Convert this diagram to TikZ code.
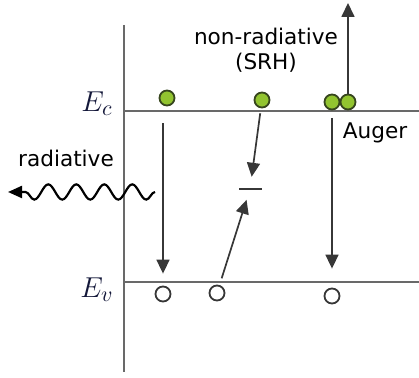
\documentclass[tikz,border=0pt]{standalone}
\usepackage{fontspec}
\newfontfamily\labelfont{DejaVu Sans}
\usepackage{xcolor}
\usepackage{tikz}
\usetikzlibrary{arrows.meta, positioning, decorations.pathmorphing}
\definecolor{ElecGreen}{RGB}{146,196,48}
\definecolor{ElecEdge}{RGB}{55,70,30}
\definecolor{LevelGray}{RGB}{105,105,105}
\definecolor{ArrGray}{RGB}{55,55,55}
\definecolor{EnergyBlue}{RGB}{20,24,58}

\begin{document}
\begin{tikzpicture}[
    x=0.5pt, y=-0.5pt,
    elec/.style={circle, draw=ElecEdge, fill=ElecGreen, line width=0.9pt,
                 minimum size=7.5pt, inner sep=0pt},
    hole/.style={circle, draw=ArrGray, fill=white, line width=0.9pt,
                 minimum size=7.5pt, inner sep=0pt},
    level/.style={LevelGray, line width=1.4pt},
    arr/.style={-{Triangle[length=7pt, width=6.5pt]}, ArrGray, line width=0.85pt},
    lbl/.style={font=\labelfont\fontsize{10.8}{12.5}\selectfont, align=center},
    en/.style={font=\fontsize{15}{16}\selectfont, text=EnergyBlue}
]
\useasboundingbox (0,0) rectangle (419,378);
% axis and band edges
\coordinate (axtop) at (124,25);
\coordinate (axbot) at (124,372);
\coordinate (ectop) at (124,111);
\coordinate (ecend) at (419,111);
\coordinate (evtop) at (124,282);
\coordinate (evend) at (419,282);
\draw[level] (axtop) -- (axbot);
\draw[level] (ectop) -- (ecend);
\draw[level] (evtop) -- (evend);
\node[en] (ec) at (97,104) {$E_c$};
\node[en] (ev) at (97,290) {$E_v$};

% carriers
\node[elec] (e1) at (167,98) {};
\node[elec] (e2) at (262,100) {};
\node[elec] (e3) at (332,102) {};
\node[elec] (e4) at (348,102) {};
\node[hole] (h1) at (163,294) {};
\node[hole] (h2) at (217,293) {};
\node[hole] (h3) at (332,296) {};
\node[fill=ArrGray, minimum width=11.5pt, minimum height=0.9pt, inner sep=0pt] (trap) at (250,189) {};

% transitions
\draw[arr, shorten <=8.5pt, shorten >=6pt] (e1.south -| h1) -- (h1);
\draw[arr, shorten <=2.5pt, shorten >=5.5pt] (e2) -- (trap);
\draw[arr, shorten <=3.5pt, shorten >=5pt] (h2) -- (trap);
\draw[arr, shorten <=3.75pt, shorten >=9.5pt] (e3) -- (h3);
\coordinate (augtop) at (348,3);
\draw[arr] (e4.north) -- (augtop);

% photon
\coordinate (wstart) at (155,192);
\coordinate (wend) at (8,192);
\draw[black, line width=1.1pt, -{Triangle[length=7pt, width=6pt]},
      decorate, decoration={snake, segment length=14pt, amplitude=3.8pt, post length=7pt}]
      (wstart) -- (wend);

% labels
\node[lbl] (rad) at (66,158) {radiative};
\node[lbl] (srh) at (266,50) {non-radiative\\(SRH)};
\node[lbl] (aug) at (375,133) {Auger};
\end{tikzpicture}
\end{document}
